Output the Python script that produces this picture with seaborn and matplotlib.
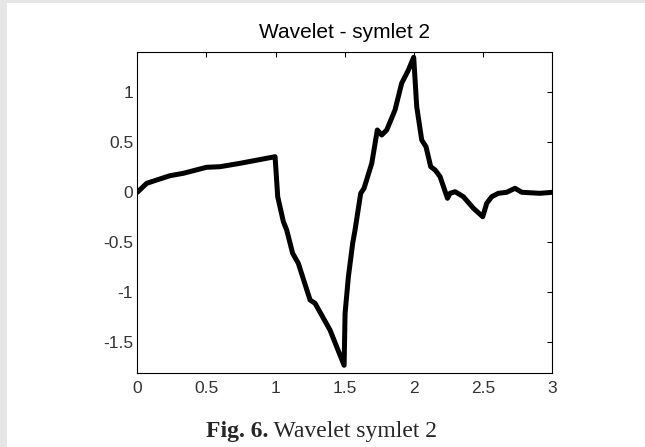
import matplotlib
matplotlib.use("Agg")
import matplotlib.pyplot as plt
from matplotlib.patches import Rectangle
import seaborn as sns
import pandas as pd

# Data (symlet 2 wavelet function)
t_values = [0.0, 0.068, 0.236, 0.333, 0.50, 0.598, 0.743, 0.996,
            1.015, 1.056, 1.08, 1.123, 1.164, 1.249, 1.285, 1.393, 1.495,
            1.502, 1.526, 1.557, 1.574, 1.615, 1.639, 1.695, 1.735, 1.767, 1.803,
            1.863, 1.911, 1.96, 1.998,
            2.02, 2.056, 2.087, 2.121, 2.153, 2.189, 2.242, 2.261, 2.297, 2.357,
            2.43, 2.497, 2.526, 2.562, 2.61, 2.67, 2.73, 2.78, 2.91, 3.0]
psi_values = [0.0, 0.09, 0.166, 0.19, 0.25, 0.256, 0.29, 0.356,
              -0.044, -0.294, -0.377, -0.61, -0.71, -1.077, -1.11, -1.377, -1.73,
              -1.21, -0.844, -0.51, -0.377, -0.01, 0.04, 0.29, 0.623, 0.573, 0.623,
              0.823, 1.09, 1.223, 1.35,
              0.856, 0.523, 0.456, 0.256, 0.223, 0.156, -0.06, -0.01, 0.006, -0.044,
              -0.16, -0.244, -0.11, -0.044, -0.01, 0.0, 0.04, 0.0, -0.01, 0.0]
x_ticks = [0, 0.5, 1, 1.5, 2, 2.5, 3]
x_tick_labels = ["0", "0.5", "1", "1.5", "2", "2.5", "3"]
y_ticks = [-1.5, -1, -0.5, 0, 0.5, 1]
y_tick_labels = ["-1.5", "-1", "-0.5", "0", "0.5", "1"]
title_text = "Wavelet - symlet 2"
caption_bold = "Fig. 6."
caption_rest = " Wavelet symlet 2"

sns.set_style("white")
plt.rcParams["font.family"] = ["Liberation Sans", "DejaVu Sans"]
plt.rcParams["axes.unicode_minus"] = False

W, H = 645, 447
fig = plt.figure(figsize=(W / 100, H / 100), dpi=100)
fig.patch.set_facecolor("white")
# light gray page frame
fig.patches.append(Rectangle((0, 0), 7 / W, 1, transform=fig.transFigure,
                             facecolor="#e6e6e6", edgecolor="none", zorder=0))
fig.patches.append(Rectangle((0, 1 - 3 / H), 1, 3 / H, transform=fig.transFigure,
                             facecolor="#e6e6e6", edgecolor="none", zorder=0))

left, right, top, bottom = 137.3, 552.3, 51.7, 372.7
ax = fig.add_axes([left / W, 1 - bottom / H, (right - left) / W, (bottom - top) / H])

df = pd.DataFrame({"t": t_values, "psi": psi_values})
sns.lineplot(data=df, x="t", y="psi", ax=ax, color="black", linewidth=3.6,
             estimator=None, sort=False)

ax.set_xlim(0, 3)
ax.set_ylim(-1.804, 1.406)
ax.set_xticks(x_ticks)
ax.set_xticklabels(x_tick_labels)
ax.set_yticks(y_ticks)
ax.set_yticklabels(y_tick_labels)
ax.set_xlabel("")
ax.set_ylabel("")
ax.tick_params(direction="in", length=3.5, width=0.75, top=True, right=True,
               labelsize=12.5, labelcolor="#333333", color="black")
ax.tick_params(axis="x", pad=6)
ax.tick_params(axis="y", pad=3)
for s in ax.spines.values():
    s.set_visible(True)
    s.set_color("black")
    s.set_linewidth(0.8)

fig.text((left + right) / 2 / W, 1 - 37.7 / H, title_text, ha="center",
         va="baseline", fontsize=15, color="black")

# Caption: bold "Fig. 6." followed by regular text
serif = ["Liberation Serif", "DejaVu Serif"]
cap_y = 1 - 436.7 / H
t1 = fig.text(206 / W, cap_y, caption_bold, ha="left", va="baseline",
              fontsize=17, fontweight="bold", family=serif)
t2 = fig.text(0, cap_y, caption_rest, fontsize=17, family=serif,
              ha="left", va="baseline")
fig.canvas.draw()
bb = t1.get_window_extent()
t2.set_position((bb.x1 / W, cap_y))

fig.savefig("out.png", dpi=100)
